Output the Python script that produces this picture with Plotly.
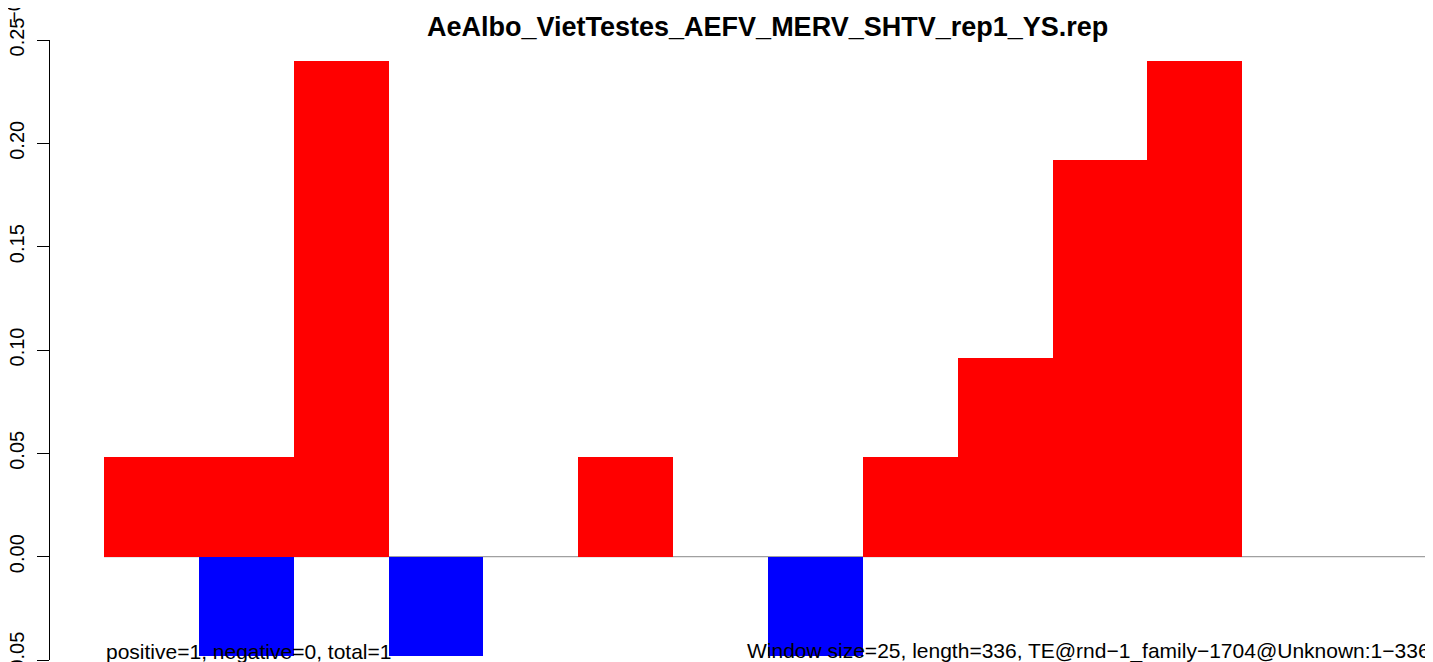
import plotly.graph_objects as go

bins = list(range(14))
pos_vals = [0.048, 0.048, 0.24, 0, 0, 0.048, 0, 0, 0.048, 0.096, 0.192, 0.24, 0, 0]
neg_vals = [0, -0.048, 0, -0.048, 0, 0, 0, -0.048, 0, 0, 0, 0, 0, 0]
y_ticks = [-0.05, 0.00, 0.05, 0.10, 0.15, 0.20, 0.25]
y_labels = ["\u22120.05", "0.00", "0.05", "0.10", "0.15", "0.20", "0.25"]
title = "AeAlbo_VietTestes_AEFV_MERV_SHTV_rep1_YS.rep"
left_note = "positive=1, negative=0, total=1"
right_note = "Window size=25, length=336, TE@rnd\u22121_family\u22121704@Unknown:1\u2212336"

# page body has an 8px margin; figure coordinates = reference pixels - 8
OFF = 8
W, H = 1433 - OFF, 662 - OFF
FONT = "Liberation Sans, Arial, Helvetica, sans-serif"

def px(xr):
    return (xr - OFF) / W

def py(yr):
    return 1 - (yr - OFF) / H

fig = go.Figure()
fig.add_trace(go.Bar(x=bins, y=pos_vals, width=1, marker=dict(color="#FF0000", line=dict(width=0)), showlegend=False))
fig.add_trace(go.Bar(x=bins, y=neg_vals, width=1, marker=dict(color="#0000FF", line=dict(width=0)), showlegend=False))

# geometry (reference pixels)
axis_x = 50
bar_left, bar_right = 104, 1432
bin_w = (bar_right - bar_left) / 14
c0 = bar_left + bin_w / 2
xr = [(axis_x - c0) / bin_w, (1433 - c0) / bin_w]
ydom = [py(660), py(40)]

fig.add_shape(type="line", xref="x", yref="y", x0=-0.5, x1=xr[1], y0=0, y1=0,
              line=dict(color="#A0A0A0", width=1.3), layer="below")

fig.update_layout(
    width=W, height=H,
    margin=dict(l=0, r=0, t=0, b=0, autoexpand=False),
    paper_bgcolor="white", plot_bgcolor="white",
    barmode="overlay", bargap=0,
    font=dict(family=FONT, color="black"),
    xaxis=dict(domain=[px(axis_x), 1], range=xr, visible=False, showgrid=False, zeroline=False,
               automargin=False),
    yaxis=dict(domain=ydom, range=[-0.05, 0.25], tickvals=y_ticks, ticktext=y_labels,
               tickangle=-90, ticks="outside", ticklen=12, tickwidth=1.3, tickcolor="black",
               showline=True, linecolor="black", linewidth=1.3, showgrid=False, zeroline=False,
               tickfont=dict(size=20, family=FONT), ticklabelstandoff=5, automargin=False,
               ticklabeloverflow="allow"),
    annotations=[
        dict(text="<b>" + title + "</b>", x=px(767), y=py(27), xref="paper", yref="paper",
             xanchor="center", yanchor="middle", showarrow=False, font=dict(size=27, family=FONT)),
        dict(text=left_note, x=px(104), y=py(651), xref="paper", yref="paper",
             xanchor="left", yanchor="middle", showarrow=False, font=dict(size=21, family=FONT)),
        dict(text=right_note, x=px(1432), y=py(651), xref="paper", yref="paper",
             xanchor="right", yanchor="middle", showarrow=False, font=dict(size=21, family=FONT)),
        dict(text="\u22120", x=px(14), y=py(12), xref="paper", yref="paper", textangle=-90,
             xanchor="center", yanchor="middle", showarrow=False, font=dict(size=20, family=FONT)),
    ],
)

fig.write_html("out.html")
